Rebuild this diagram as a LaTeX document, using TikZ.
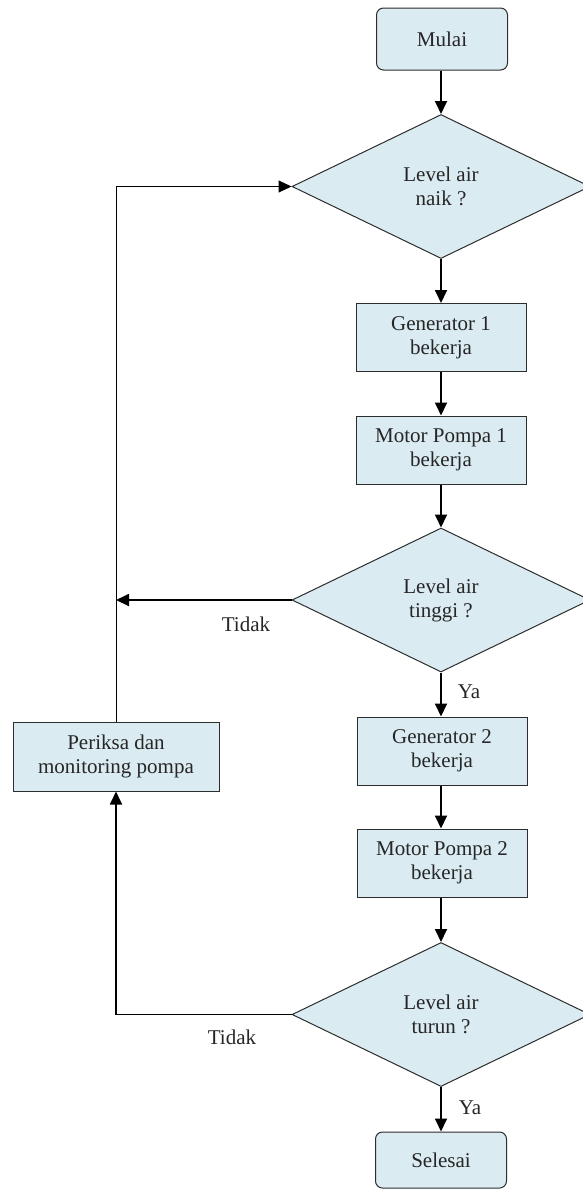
\documentclass[tikz,border=0pt]{standalone}
\usepackage{fontspec}
\setmainfont{Liberation Serif}
\usetikzlibrary{shapes.geometric,arrows.meta}
\definecolor{boxfill}{RGB}{219,235,242}
\definecolor{boxline}{RGB}{45,45,45}
\tikzset{
  base/.style={draw=boxline,line width=1pt,fill=boxfill,align=center,inner sep=0pt,
    font=\fontsize{21}{24}\selectfont,text=black!85},
  term/.style={base,rounded corners=7pt,minimum width=131pt,minimum height=62pt},
  procbox/.style={base,minimum width=170pt,minimum height=68pt},
  decide/.style={base,diamond,minimum width=298pt,minimum height=144pt},
  arr/.style={line width=1.8pt,-{Triangle[length=13pt,width=12pt]}},
  thinarr/.style={line width=1pt,-{Triangle[length=13pt,width=12pt]}},
  lbl/.style={font=\fontsize{21}{24}\selectfont,text=black!85,inner sep=0pt}
}
\begin{document}
\begin{tikzpicture}[x=1pt,y=1pt]
\useasboundingbox (0,0) rectangle (582,-1189);
\node[term] (start) at (442,-39) {Mulai};
\node[decide] (d1) at (441,-186.5) {Level air\\naik ?};
\node[procbox] (g1) at (441,-337.5) {Generator 1\\bekerja};
\node[procbox] (m1) at (441,-450) {Motor Pompa 1\\bekerja};
\node[decide] (d2) at (441,-600) {Level air\\tinggi ?};
\node[procbox] (g2) at (442,-751) {Generator 2\\bekerja};
\node[procbox] (m2) at (442,-863) {Motor Pompa 2\\bekerja};
\node[decide] (d3) at (441,-1014.5) {Level air\\turun ?};
\node[term,minimum height=56pt] (end) at (441,-1160) {Selesai};
\node[procbox,minimum width=206pt,minimum height=69pt] (p) at (116,-756.5) {Periksa dan\\monitoring pompa};
\node[lbl] (t1) at (246,-624) {Tidak};
\node[lbl] (t2) at (232,-1037) {Tidak};
\node[lbl] (y1) at (469,-692) {Ya};
\node[lbl] (y2) at (470,-1108) {Ya};
\draw[arr] (start.south -| d1.north) -- (d1.north);
\draw[arr] (d1.south) -- (d1.south |- g1.north);
\draw[arr] (g1.south -| d1.south) -- (d1.south |- m1.north);
\draw[arr] (m1.south -| d2.north) -- (d2.north);
\draw[arr] (d2.south) -- (d2.south |- g2.north);
\draw[arr] (g2.south -| d2.south) -- (d2.south |- m2.north);
\draw[arr] (m2.south -| d3.north) -- (d3.north);
\draw[arr] (d3.south) -- (d3.south |- end.north);
\draw[arr] (d2.west) -- (d2.west -| p.north);
\draw[thinarr] (p.north) |- (d1.west);
\draw[arr] (d3.west) -| (p.south);
\end{tikzpicture}
\end{document}
